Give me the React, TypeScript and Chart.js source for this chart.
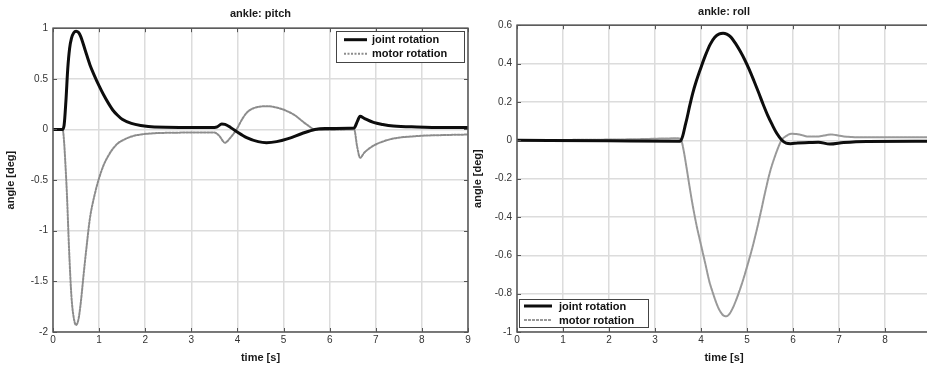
import React, { useEffect, useRef } from 'react';
import { Chart, registerables } from 'chart.js';

Chart.register(...registerables);

const FONT = "'Liberation Sans', Arial, Helvetica, sans-serif";

// ---- text ----
const seriesLabels = ['joint rotation', 'motor rotation'];
const pitchTitle = 'ankle: pitch';
const rollTitle = 'ankle: roll';
const xAxisLabel = 'time [s]';
const yAxisLabel = 'angle [deg]';

// ---- ticks ----
const xTicks = [0, 1, 2, 3, 4, 5, 6, 7, 8, 9];
const pitchYTicks = [-2, -1.5, -1, -0.5, 0, 0.5, 1];
const rollYTicks = [-1, -0.8, -0.6, -0.4, -0.2, 0, 0.2, 0.4, 0.6];

// ---- ankle: pitch ----
const pitchJointT = [0, 0.2, 0.24, 0.28, 0.32, 0.36, 0.4, 0.45, 0.5, 0.55, 0.6, 0.7, 0.8, 0.9, 1.0, 1.1, 1.2, 1.3, 1.4, 1.5, 1.7, 1.9, 2.2, 3.5, 3.56, 3.66, 3.73, 3.85, 3.98, 4.2, 4.45, 4.63, 4.85, 5.1, 5.4, 5.68, 5.9, 6.53, 6.6, 6.66, 6.75, 6.95, 7.15, 7.38, 7.89, 8.5, 9];
const pitchJointY = [0, 0, 0.04, 0.28, 0.6, 0.8, 0.9, 0.955, 0.97, 0.96, 0.92, 0.78, 0.64, 0.53, 0.43, 0.34, 0.26, 0.19, 0.14, 0.1, 0.06, 0.04, 0.025, 0.02, 0.025, 0.055, 0.05, 0.02, -0.02, -0.08, -0.12, -0.13, -0.12, -0.09, -0.04, 0.0, 0.01, 0.015, 0.08, 0.13, 0.11, 0.07, 0.05, 0.035, 0.025, 0.02, 0.02];

const pitchMotorT = [0, 0.21, 0.24, 0.27, 0.3, 0.35, 0.4, 0.45, 0.5, 0.55, 0.6, 0.66, 0.73, 0.8, 0.9, 1.0, 1.1, 1.2, 1.3, 1.4, 1.5, 1.7, 1.9, 2.3, 3.5, 3.6, 3.73, 3.85, 3.98, 4.1, 4.2, 4.35, 4.63, 4.9, 5.21, 5.5, 5.68, 6.0, 6.53, 6.6, 6.66, 6.75, 6.95, 7.15, 7.38, 7.89, 8.5, 9];
const pitchMotorY = [0, 0, -0.12, -0.35, -0.62, -1.2, -1.65, -1.86, -1.93, -1.88, -1.72, -1.45, -1.15, -0.88, -0.65, -0.48, -0.35, -0.26, -0.19, -0.14, -0.11, -0.07, -0.05, -0.035, -0.03, -0.06, -0.13, -0.08, 0.0, 0.1, 0.165, 0.21, 0.23, 0.21, 0.15, 0.05, 0.0, -0.005, 0.0, -0.18, -0.28, -0.23, -0.16, -0.12, -0.09, -0.065, -0.055, -0.05];

// ---- ankle: roll ----
const rollJointT = [0, 2, 3.55, 3.6, 3.65, 3.7, 3.75, 3.82, 3.9, 4.0, 4.1, 4.2, 4.3, 4.4, 4.48, 4.56, 4.65, 4.75, 4.85, 4.95, 5.05, 5.15, 5.25, 5.35, 5.45, 5.55, 5.65, 5.75, 5.85, 5.95, 6.1, 6.35, 6.55, 6.8, 7.1, 7.6, 9];
const rollJointY = [0, -0.003, -0.005, 0.02, 0.07, 0.12, 0.175, 0.245, 0.31, 0.38, 0.445, 0.5, 0.537, 0.555, 0.558, 0.553, 0.538, 0.505, 0.465, 0.42, 0.368, 0.31, 0.25, 0.188, 0.13, 0.08, 0.035, 0.003, -0.015, -0.018, -0.014, -0.012, -0.01, -0.02, -0.012, -0.006, -0.005];

const rollMotorT = [0, 2.5, 3.5, 3.57, 3.62, 3.68, 3.75, 3.82, 3.9, 4.0, 4.1, 4.18, 4.25, 4.32, 4.4, 4.48, 4.55, 4.62, 4.7, 4.8, 4.9, 5.0, 5.1, 5.2, 5.3, 5.4, 5.5, 5.61, 5.7, 5.75, 5.85, 5.96, 6.14, 6.32, 6.55, 6.82, 7.1, 7.5, 9];
const rollMotorY = [0, 0.005, 0.01, 0.0, -0.05, -0.134, -0.24, -0.34, -0.44, -0.546, -0.65, -0.735, -0.79, -0.84, -0.885, -0.912, -0.918, -0.905, -0.87, -0.81, -0.74, -0.66, -0.575, -0.48, -0.375, -0.265, -0.165, -0.082, -0.025, 0.0, 0.022, 0.034, 0.03, 0.02, 0.02, 0.03, 0.02, 0.015, 0.015];

const toPoints = (t: number[], y: number[]) => t.map((x, i) => ({ x, y: y[i] }));
const fmt = (v: number) => String(Number(v.toFixed(2)));

const framePlugin = {
  id: 'frame',
  afterDatasetsDraw(chart: any, _args: any, opts: any) {
    const { ctx, chartArea, scales } = chart;
    const { left, right, top, bottom } = chartArea;
    ctx.save();
    // inward tick marks
    ctx.strokeStyle = '#555';
    ctx.lineWidth = 1;
    ctx.beginPath();
    scales.x.ticks.forEach((t: any) => {
      const px = Math.round(scales.x.getPixelForValue(t.value)) + 0.5;
      ctx.moveTo(px, bottom); ctx.lineTo(px, bottom - 4);
      ctx.moveTo(px, top); ctx.lineTo(px, top + 4);
    });
    scales.y.ticks.forEach((t: any) => {
      const py = Math.round(scales.y.getPixelForValue(t.value)) + 0.5;
      ctx.moveTo(left, py); ctx.lineTo(left + 4, py);
      ctx.moveTo(right, py); ctx.lineTo(right - 4, py);
    });
    ctx.stroke();
    // frame
    ctx.strokeStyle = '#555';
    ctx.lineWidth = 1.5;
    ctx.strokeRect(left, top, right - left, bottom - top);

    // legend
    const lg = opts.legend;
    if (lg) {
      const bx = lg.corner === 'tr' ? right - lg.dx - lg.w : left + lg.dx;
      const by = lg.corner === 'tr' ? top + lg.dy : bottom - lg.dy - lg.h;
      ctx.fillStyle = '#fff';
      ctx.fillRect(bx, by, lg.w, lg.h);
      ctx.strokeStyle = '#444';
      ctx.lineWidth = 1;
      ctx.strokeRect(Math.round(bx) + 0.5, Math.round(by) + 0.5, lg.w, lg.h);
      ctx.font = `bold 11px ${FONT}`;
      ctx.textBaseline = 'middle';
      ctx.textAlign = 'left';
      chart.data.datasets.forEach((ds: any, i: number) => {
        const ry = by + lg.row0 + i * lg.rowGap;
        ctx.save();
        ctx.strokeStyle = ds.borderColor;
        ctx.lineWidth = ds.borderWidth;
        ctx.setLineDash(ds.borderDash || []);
        ctx.beginPath();
        ctx.moveTo(bx + lg.lineX0, ry);
        ctx.lineTo(bx + lg.lineX1, ry);
        ctx.stroke();
        ctx.restore();
        ctx.fillStyle = '#111';
        ctx.fillText(ds.label, bx + lg.textX, ry + 0.5);
      });
    }
    ctx.restore();
  },
};

function makeConfig(p: {
  title: string;
  titlePadTop: number;
  titlePadBottom: number;
  layoutTop: number;
  layoutRight: number;
  yWidth: number;
  yMin: number;
  yMax: number;
  yTicks: number[];
  datasets: any[];
  legend: any;
}) {
  return {
    type: 'line',
    data: { datasets: p.datasets },
    plugins: [framePlugin],
    options: {
      animation: false,
      responsive: false,
      devicePixelRatio: 1,
      layout: { padding: { left: 0, right: p.layoutRight, top: p.layoutTop, bottom: 0 } },
      elements: { point: { radius: 0 } },
      plugins: {
        legend: { display: false },
        tooltip: { enabled: false },
        title: {
          display: true,
          text: p.title,
          fullSize: false,
          color: '#1a1a1a',
          font: { family: FONT, size: 11, weight: 'bold' },
          padding: { top: p.titlePadTop, bottom: p.titlePadBottom },
        },
        frame: { legend: p.legend },
      },
      scales: {
        x: {
          type: 'linear',
          min: 0,
          max: 9,
          afterBuildTicks: (s: any) => { s.ticks = xTicks.map((v) => ({ value: v })); },
          afterFit: (s: any) => { s.height = 35; },
          ticks: {
            padding: 2,
            color: '#333',
            font: { family: FONT, size: 10 },
            callback: (v: any) => fmt(Number(v)),
            maxRotation: 0,
          },
          grid: { color: '#dcdcdc', lineWidth: 1.5, drawTicks: false },
          border: { display: false },
          title: {
            display: true,
            text: xAxisLabel,
            color: '#1a1a1a',
            font: { family: FONT, size: 11, weight: 'bold' },
            padding: { top: 0, bottom: 2 },
          },
        },
        y: {
          type: 'linear',
          min: p.yMin,
          max: p.yMax,
          afterBuildTicks: (s: any) => { s.ticks = p.yTicks.map((v) => ({ value: v })); },
          afterFit: (s: any) => { s.width = p.yWidth; },
          ticks: {
            padding: 5,
            color: '#333',
            font: { family: FONT, size: 10 },
            callback: (v: any) => fmt(Number(v)),
          },
          grid: { color: '#dcdcdc', lineWidth: 1.5, drawTicks: false },
          border: { display: false },
          title: {
            display: true,
            text: yAxisLabel,
            color: '#1a1a1a',
            font: { family: FONT, size: 11, weight: 'bold' },
            padding: { top: 4, bottom: 0 },
          },
        },
      },
    },
  };
}

const lineBase = {
  pointRadius: 0,
  cubicInterpolationMode: 'monotone',
  borderCapStyle: 'round',
  borderJoinStyle: 'round',
  fill: false,
};

export default function App() {
  const leftRef = useRef<HTMLCanvasElement>(null);
  const rightRef = useRef<HTMLCanvasElement>(null);

  useEffect(() => {
    const left = new Chart(leftRef.current as any, makeConfig({
      title: pitchTitle,
      titlePadTop: 4,
      titlePadBottom: 8,
      layoutTop: 3,
      layoutRight: 7,
      yWidth: 53,
      yMin: -2,
      yMax: 1,
      yTicks: pitchYTicks,
      datasets: [
        { ...lineBase, label: seriesLabels[0], data: toPoints(pitchJointT, pitchJointY), borderColor: '#0d0d0d', borderWidth: 3 },
        { ...lineBase, label: seriesLabels[1], data: toPoints(pitchMotorT, pitchMotorY), borderColor: '#8c8c8c', borderWidth: 2, borderDash: [2, 1.5] },
      ],
      legend: { corner: 'tr', dx: 4, dy: 3, w: 128, h: 31, row0: 8.5, rowGap: 14, lineX0: 8, lineX1: 31, textX: 36 },
    }) as any);

    const right = new Chart(rightRef.current as any, makeConfig({
      title: rollTitle,
      titlePadTop: 4,
      titlePadBottom: 7,
      layoutTop: 1,
      layoutRight: 6,
      yWidth: 50,
      yMin: -1,
      yMax: 0.6,
      yTicks: rollYTicks,
      datasets: [
        { ...lineBase, label: seriesLabels[0], data: toPoints(rollJointT, rollJointY), borderColor: '#0d0d0d', borderWidth: 3 },
        { ...lineBase, label: seriesLabels[1], data: toPoints(rollMotorT, rollMotorY), borderColor: '#999999', borderWidth: 2, borderDash: [3, 1] },
      ],
      legend: { corner: 'bl', dx: 2, dy: 5, w: 129, h: 28, row0: 7, rowGap: 14, lineX0: 5, lineX1: 33, textX: 40 },
    }) as any);

    return () => {
      left.destroy();
      right.destroy();
    };
  }, []);

  return (
    <div style={{ position: 'fixed', left: 0, top: 0, width: 927, height: 367, overflow: 'hidden', background: '#fff' }}>
      <canvas ref={leftRef} width={475} height={367} style={{ position: 'absolute', left: 0, top: 0, width: 475, height: 367, display: 'block' }} />
      <canvas ref={rightRef} width={470} height={367} style={{ position: 'absolute', left: 467, top: 0, width: 470, height: 367, display: 'block' }} />
    </div>
  );
}
